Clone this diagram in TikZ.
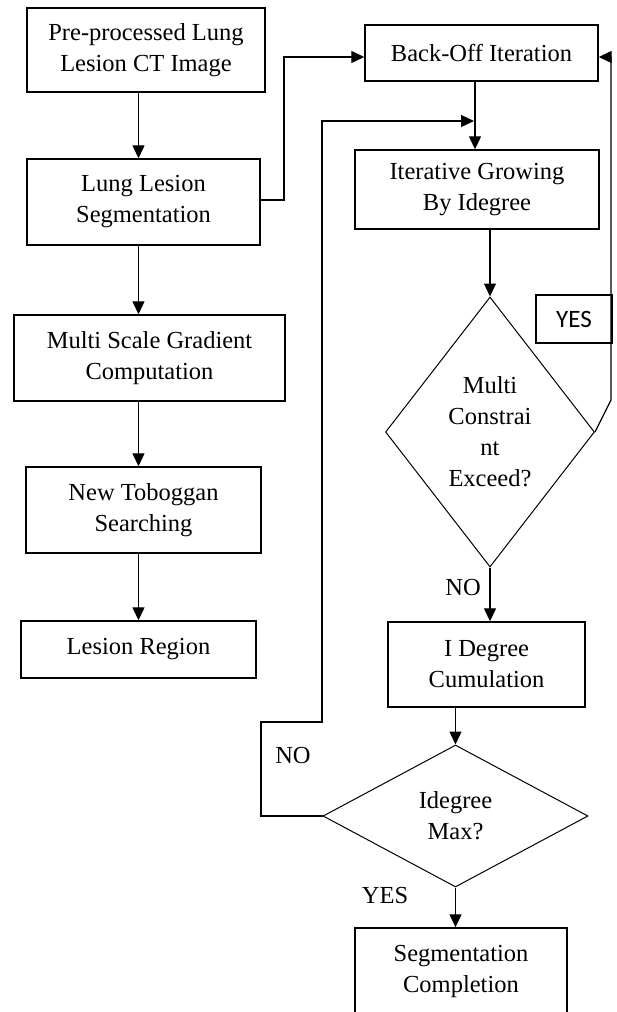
\documentclass[tikz,border=0pt]{standalone}
\usepackage{fontspec}
\setmainfont{Liberation Serif}
\newfontfamily\yesfont{Carlito}
\usetikzlibrary{arrows.meta,shapes.geometric}
\begin{document}
\begin{tikzpicture}[x=1pt,y=-1pt,
  box/.style={draw, line width=1.4pt, inner sep=0pt, align=center, font=\fontsize{24.5}{31}\selectfont},
  dia/.style={draw, diamond, line width=1pt, inner sep=0pt, align=center, font=\fontsize{24.5}{31}\selectfont},
  arr/.style={line width=1.3pt, -{Triangle[length=13pt,width=12pt]}},
  lnk/.style={line width=1.3pt},
  lbl/.style={font=\fontsize{24.5}{31}\selectfont, inner sep=0pt}]
\clip (0,0) rectangle (616,1012);
% left column
\node[box, minimum width=238pt, minimum height=84pt] (pre) at (146,50) {Pre-processed Lung\\Lesion CT Image};
\node[box, minimum width=233pt, minimum height=86pt] (seg) at (143.5,202) {Lung Lesion\\Segmentation};
\node[box, minimum width=271pt, minimum height=86pt] (msg) at (149.5,358) {Multi Scale Gradient\\Computation};
\node[box, minimum width=235pt, minimum height=86pt] (tob) at (143.5,510) {New Toboggan\\Searching};
\node[box, minimum width=235pt, minimum height=57pt] (les) at (138.5,649.5) {Lesion Region};
% right column
\node[box, minimum width=233pt, minimum height=56pt] (bo) at (481.5,53) {Back-Off Iteration};
\node[box, minimum width=244pt, minimum height=79pt] (itg) at (477,189.5) {Iterative Growing\\By Idegree};
\node[dia, aspect=0.774, minimum width=209pt, minimum height=270pt] (d1) at (490,432) {Multi\\Constrai\\nt\\Exceed?};
\node[box, minimum width=197pt, minimum height=85pt] (idc) at (486.5,664.5) {I Degree\\Cumulation};
\node[dia, aspect=1.87, minimum width=265pt, minimum height=142pt] (d2) at (455.5,816) {Idegree\\Max?};
\node[box, minimum width=212pt, minimum height=86pt] (sc) at (461,971) {Segmentation\\Completion};
\node[draw, line width=1.2pt, fill=white, minimum width=76pt, minimum height=48pt, inner sep=0pt, font=\yesfont\fontsize{25}{30}\selectfont] (yes1) at (574,319) {YES};
% labels
\node[lbl] (no1) at (463,588) {NO};
\node[lbl] (no2) at (293,755) {NO};
\node[lbl] (yes2) at (385,895) {YES};
% helper coordinates
\coordinate (colx) at (138.5,0);
\coordinate (colr) at (475,0);
\coordinate (boy) at (0,57);
\coordinate (k1) at (284,0);
\coordinate (k2) at (611,400);
\coordinate (k3) at (261,722);
\coordinate (k4) at (322,722);
\coordinate (k5) at (322,121);
\coordinate (k6) at (474,121);
% left column arrows
\draw[arr] (pre.south -| colx) -- (seg.north -| colx);
\draw[arr] (seg.south -| colx) -- (msg.north -| colx);
\draw[arr] (msg.south -| colx) -- (tob.north -| colx);
\draw[arr] (tob.south -| colx) -- (les.north -| colx);
% segmentation to back-off
\draw[arr] (seg.east |- 0,200) -| (k1 |- boy) -- (bo.west |- boy);
% right column
\draw[arr] (bo.south -| colr) -- (itg.north -| colr);
\draw[arr] (itg.south -| d1.north) -- (d1.north);
\draw[arr] (d1.south) -- (idc.north -| d1.south);
\draw[arr] (idc.south -| d2.north) -- (d2.north);
\draw[arr] (d2.south) -- (sc.north -| d2.south);
% yes loop
\draw[arr] (d1.east) -- (k2) |- (bo.east |- boy);
% no loop
\draw[arr] (d2.west) -- (k3 |- d2.west) -- (k3) -- (k4) -- (k5) -- (k6);
\end{tikzpicture}
\end{document}
